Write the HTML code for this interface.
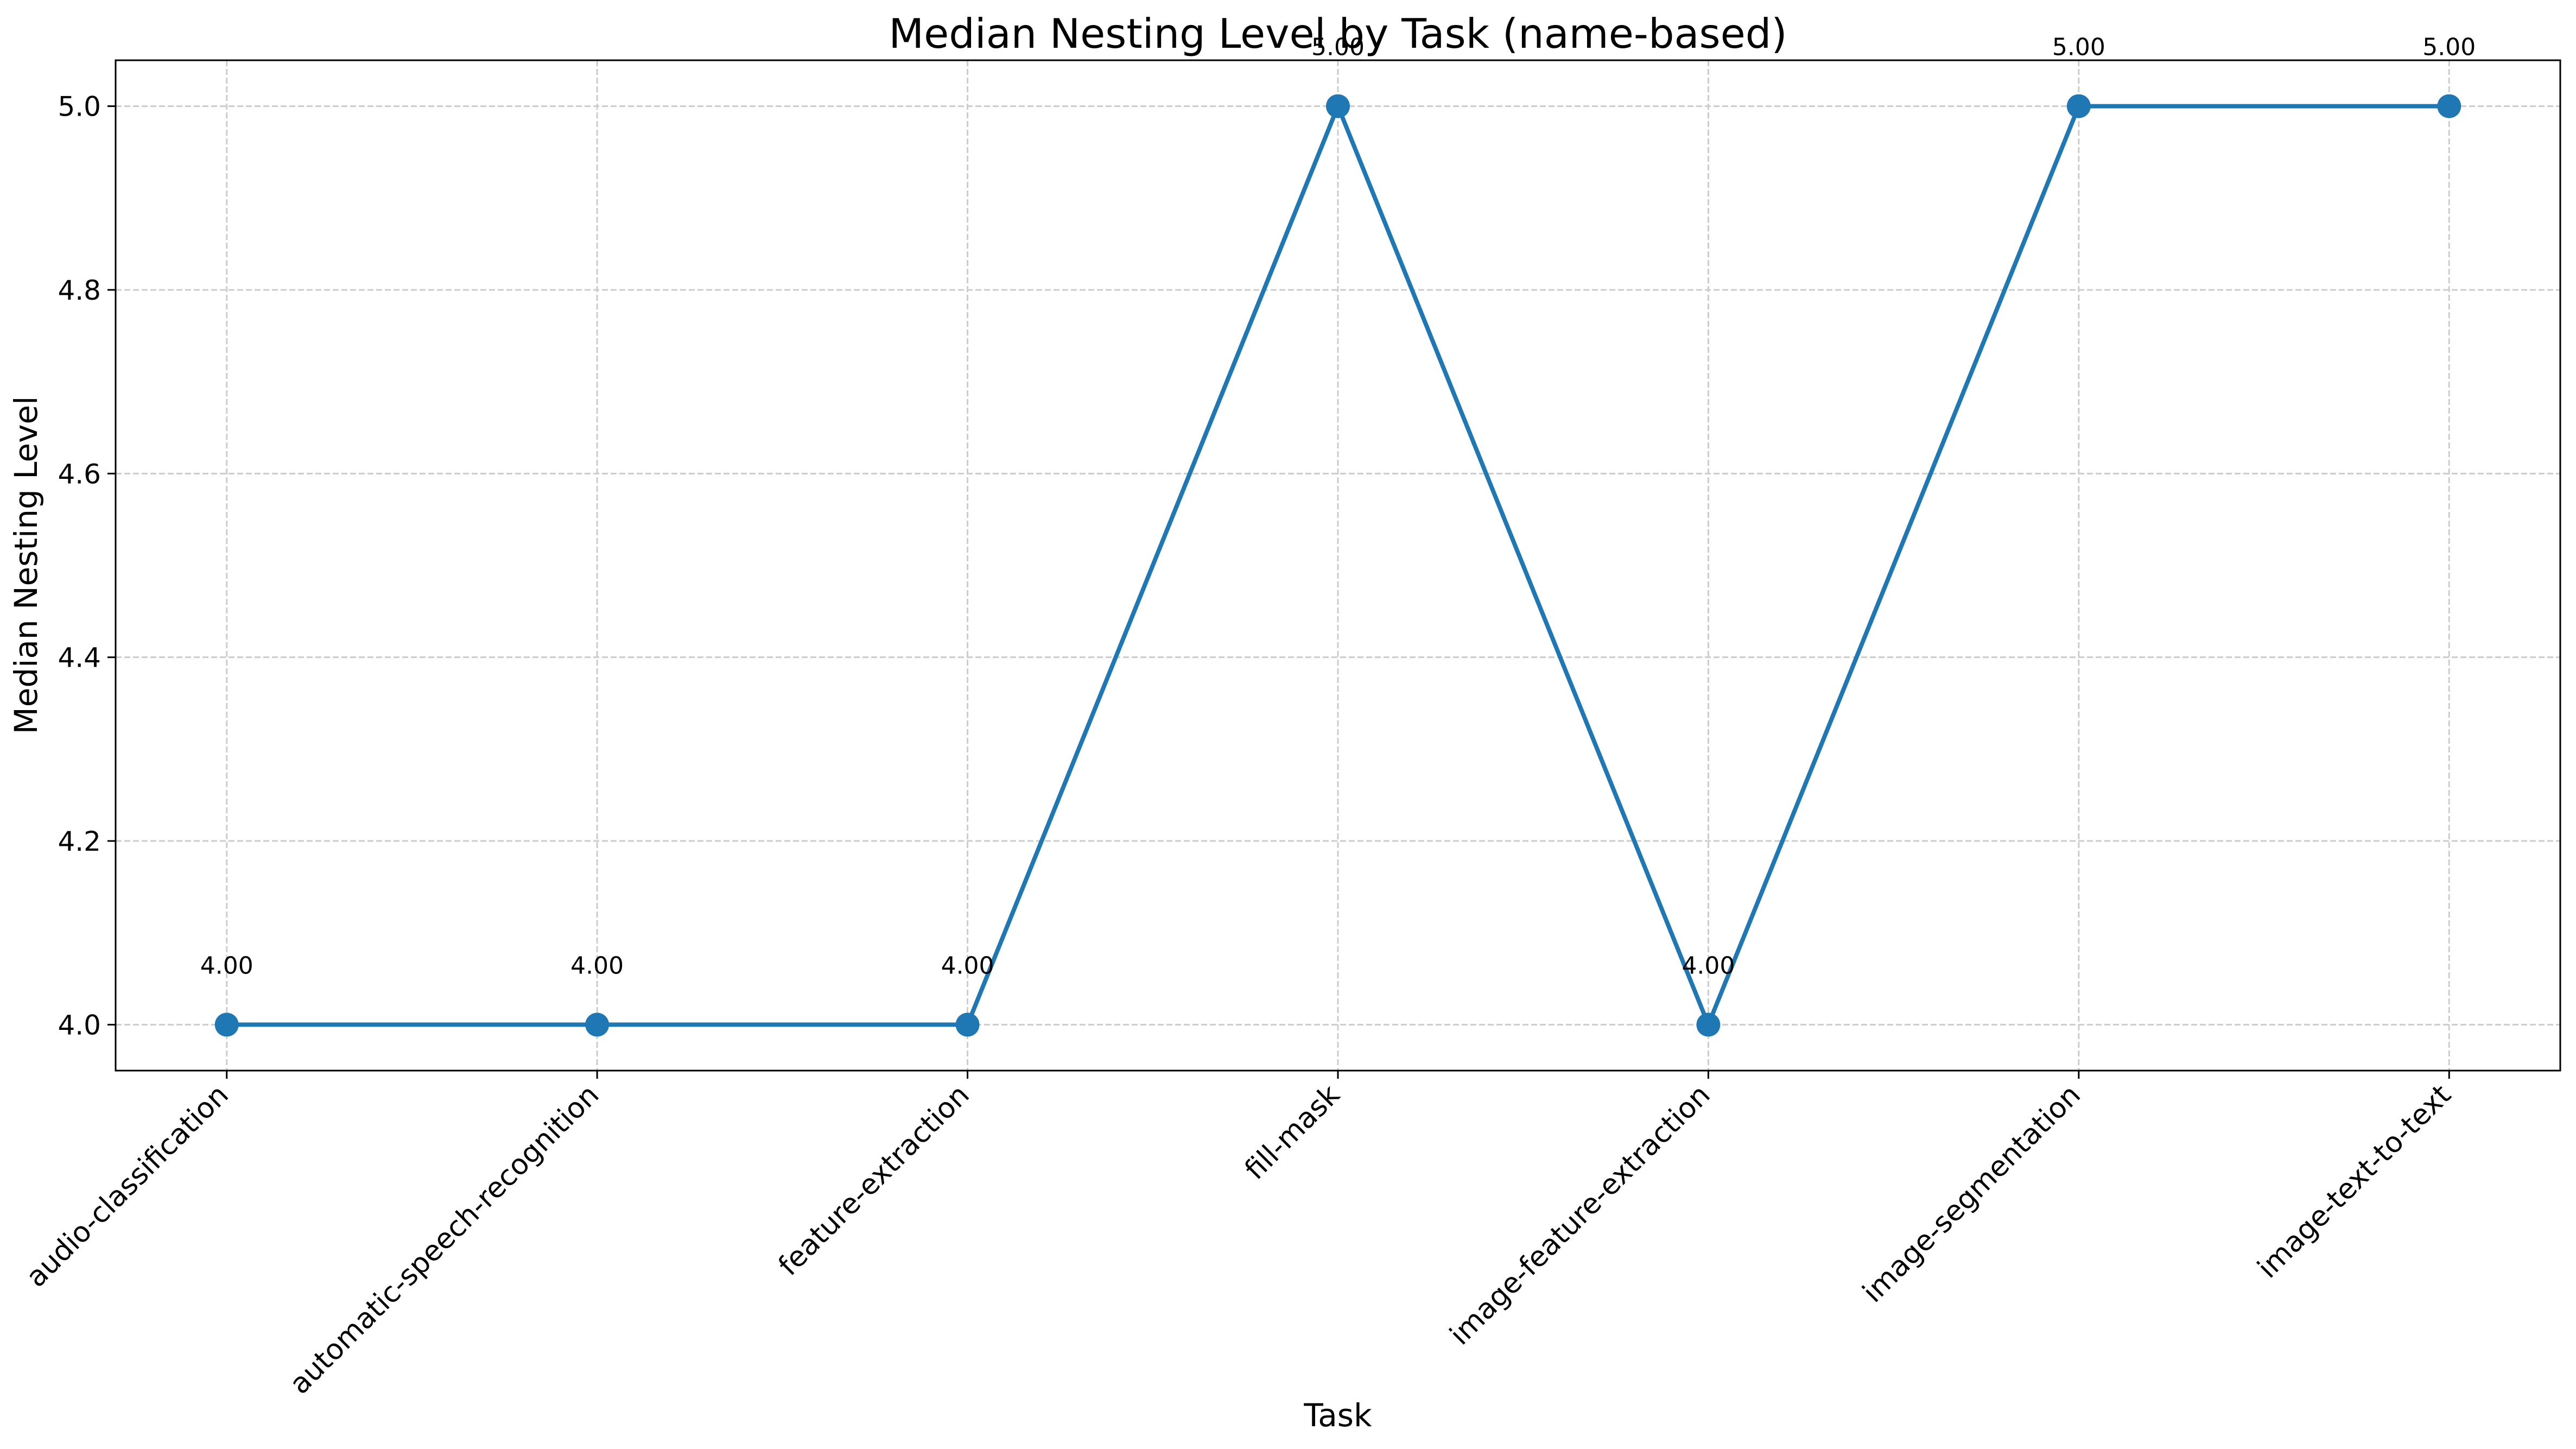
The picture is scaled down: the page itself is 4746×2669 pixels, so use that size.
<!DOCTYPE html>
<html><head><meta charset="utf-8"><style>
html,body{margin:0;padding:0;background:#fff;}
svg{display:block;font-family:"DejaVu Sans","Liberation Sans",sans-serif;}
</style></head><body>
<svg id="chart" width="4746" height="2669" viewBox="0 0 4746 2669" xmlns="http://www.w3.org/2000/svg">
<rect width="4746" height="2669" fill="#fff"/>
<g id="grid"></g>
<g id="series"></g>
<rect x="213" y="111" width="4504" height="1861" fill="none" stroke="#000" stroke-width="3"/>
<g id="axes"></g>
<text x="2465" y="88" font-size="75" text-anchor="middle">Median Nesting Level by Task (name-based)</text>
<text x="2465" y="2627" font-size="58" text-anchor="middle">Task</text>
<text transform="translate(68,1041) rotate(-90)" font-size="58" text-anchor="middle">Median Nesting Level</text>
</svg>
<script>
const categories = ["audio-classification","automatic-speech-recognition","feature-extraction","fill-mask","image-feature-extraction","image-segmentation","image-text-to-text"];
const values = [4,4,4,5,4,5,5];
const yTicks = [4.0,4.2,4.4,4.6,4.8,5.0];
const yTickLabels = ["4.0","4.2","4.4","4.6","4.8","5.0"];

const NS = "http://www.w3.org/2000/svg";
const L=213,R=4717,T=111,B=1972;
const xMin=-0.3,xMax=categories.length-1+0.3,yMin=3.95,yMax=5.05;
function xs(i){return L+(i-xMin)/(xMax-xMin)*(R-L);}
function ys(v){return B-(v-yMin)/(yMax-yMin)*(B-T);}
function mk(tag,attrs,parent){const e=document.createElementNS(NS,tag);for(const k in attrs)e.setAttribute(k,attrs[k]);parent.appendChild(e);return e;}
const grid=document.getElementById('grid'),axes=document.getElementById('axes'),series=document.getElementById('series');

yTicks.forEach((v,k)=>{
  const y=ys(v);
  const g=mk('line',{x1:L,x2:R,y1:y,y2:y,stroke:'#cccccc','stroke-width':3,'stroke-dasharray':'11 5'},grid);
  
  
  const t=mk('line',{x1:L-15,x2:L,y1:y,y2:y,stroke:'#000','stroke-width':3},axes);
  
  
  const lb=mk('text',{x:L-27,y:y+18,'font-size':50,'text-anchor':'end'},axes);
  lb.textContent=yTickLabels[k];
  
  
});
categories.forEach((c,i)=>{
  const x=xs(i);
  const g=mk('line',{x1:x,x2:x,y1:T,y2:B,stroke:'#cccccc','stroke-width':3,'stroke-dasharray':'11 5'},grid);
  
  
  const t=mk('line',{x1:x,x2:x,y1:B,y2:B+15,stroke:'#000','stroke-width':3},axes);
  
  
  const lb=mk('text',{transform:`translate(${x+6},${B+48}) rotate(-45)`,'font-size':52,'text-anchor':'end'},axes);
  lb.textContent=c;
  
  
});
const pts=values.map((v,i)=>xs(i)+','+ys(v)).join(' ');
const line=mk('polyline',{points:pts,fill:'none',stroke:'#1f77b4','stroke-width':8,'stroke-linejoin':'round'},series);


values.forEach((v,i)=>{
  const c=mk('circle',{cx:xs(i),cy:ys(v),r:22,fill:'#1f77b4'},series);
  
  
  const t=mk('text',{x:xs(i),y:ys(v)-94,'font-size':44,'text-anchor':'middle'},series);
  t.textContent=v.toFixed(2);
  
  
});
</script>
</body></html>
